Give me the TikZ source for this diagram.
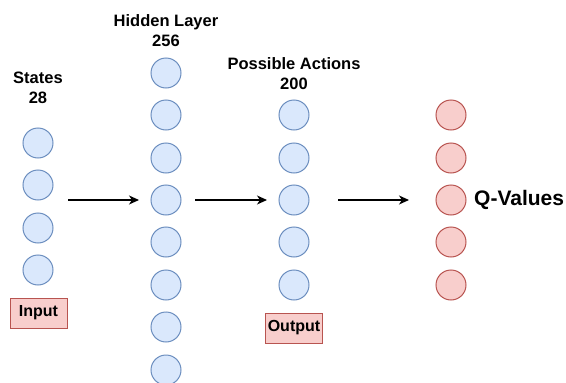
\documentclass[tikz,border=0pt]{standalone}
\usepackage{fontspec}
\setmainfont{Liberation Sans}
\usetikzlibrary{arrows.meta}
\definecolor{bfill}{HTML}{DAE8FC}
\definecolor{bdraw}{HTML}{6C8EBF}
\definecolor{rfill}{HTML}{F8CECC}
\definecolor{rdraw}{HTML}{B85450}
\tikzset{
  bneuron/.style={circle,draw=bdraw,fill=bfill,line width=1pt,minimum size=30pt,inner sep=0pt},
  rneuron/.style={circle,draw=rdraw,fill=rfill,line width=1pt,minimum size=30pt,inner sep=0pt},
  lbl/.style={font=\fontsize{16.5}{20}\selectfont\bfseries,align=center,inner sep=0pt},
  tagbox/.style={draw=rdraw,fill=rfill,line width=1pt,font=\fontsize{16}{18}\selectfont\bfseries,inner sep=2.5pt,minimum height=30pt},
  flow/.style={-{Stealth[length=10pt,width=9pt,inset=3pt]},line width=1.2pt,black}
}
\begin{document}
\begin{tikzpicture}[x=1pt,y=-1pt]
\useasboundingbox (0,0) rectangle (566,383);
% States
\node[lbl] (sl) at (38,88) {States\\28};
\foreach \i/\y in {1/143,2/185,3/228,4/270}
  \node[bneuron] (s\i) at (38,\y) {};
\node[tagbox,minimum width=57pt] (in) at (38.5,313) {Input};
% Hidden
\node[lbl] (hl) at (166,31) {Hidden Layer\\256};
\foreach \i/\y in {1/73,2/115,3/158,4/200,5/242,6/285,7/327,8/370}
  \node[bneuron] (h\i) at (166,\y) {};
% Possible actions
\node[lbl] (pl) at (294,74) {Possible Actions\\200};
\foreach \i/\y in {1/115,2/158,3/200,4/242,5/285}
  \node[bneuron] (p\i) at (294,\y) {};
\node[tagbox] (out) at (294,328) {Output};
% Q values
\foreach \i/\y in {1/115,2/158,3/200,4/242,5/285}
  \node[rneuron] (q\i) at (451,\y) {};
\node[font=\fontsize{21}{23}\selectfont\bfseries,anchor=west,inner sep=0pt] (qv) at (474,200) {Q-Values};
% arrows
\coordinate (a1s) at (68,200); \coordinate (a1e) at (139,200);
\coordinate (a2s) at (195,200); \coordinate (a2e) at (267,200);
\coordinate (a3s) at (338,200); \coordinate (a3e) at (409,200);
\draw[flow] (a1s) -- (a1e);
\draw[flow] (a2s) -- (a2e);
\draw[flow] (a3s) -- (a3e);
\end{tikzpicture}
\end{document}
